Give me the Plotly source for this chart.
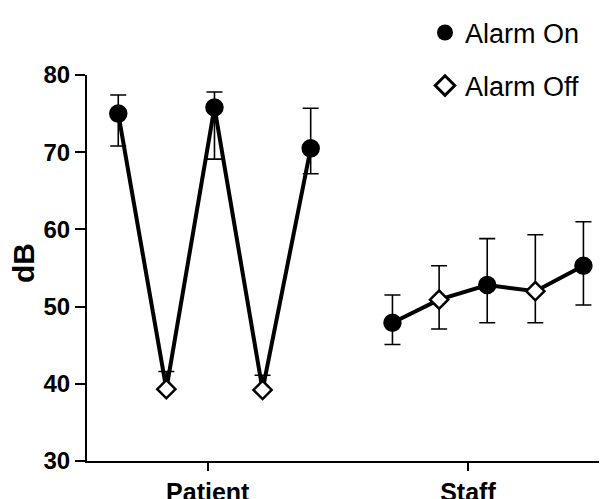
import plotly.graph_objects as go

# ---- data ----
patient_x = [0, 1, 2, 3, 4]
patient_y = [75.0, 39.3, 75.8, 39.2, 70.5]
patient_err_plus = [2.4, 2.3, 2.0, 1.9, 5.2]
patient_err_minus = [4.2, 0.0, 6.7, 0.0, 3.3]
patient_state = ["on", "off", "on", "off", "on"]

staff_x = [5.7, 6.67, 7.67, 8.67, 9.67]
staff_y = [47.9, 50.9, 52.8, 52.0, 55.3]
staff_err_plus = [3.6, 4.4, 6.0, 7.3, 5.7]
staff_err_minus = [2.8, 3.8, 4.9, 4.1, 5.1]
staff_state = ["on", "off", "on", "off", "on"]

category_ticks = [1.86, 7.27]
category_labels = ["Patient", "Staff"]
y_ticks = [30, 40, 50, 60, 70, 80]
y_title = "dB"

FONT = "Arial, Liberation Sans, Helvetica, sans-serif"


def group_trace(xs, ys, ep, em, states):
    symbols = ["circle" if s == "on" else "diamond" for s in states]
    fills = ["black" if s == "on" else "white" for s in states]
    sizes = [16 if s == "on" else 14 for s in states]
    return go.Scatter(
        x=xs, y=ys, mode="lines+markers", showlegend=False,
        line=dict(color="black", width=4),
        marker=dict(symbol=symbols, color=fills, size=sizes, opacity=1,
                    line=dict(color="black", width=2.5)),
        error_y=dict(type="data", symmetric=False, array=ep, arrayminus=em,
                     color="black", thickness=1.6, width=8),
    )


fig = go.Figure()
fig.add_trace(group_trace(patient_x, patient_y, patient_err_plus, patient_err_minus, patient_state))
fig.add_trace(group_trace(staff_x, staff_y, staff_err_plus, staff_err_minus, staff_state))

fig.add_trace(go.Scatter(x=[None], y=[None], mode="markers", name="Alarm On",
                         marker=dict(symbol="circle", color="black", size=16),
                         legend="legend"))
fig.add_trace(go.Scatter(x=[None], y=[None], mode="markers", name="Alarm Off",
                         marker=dict(symbol="diamond", color="white", size=15,
                                     line=dict(color="black", width=3)),
                         legend="legend2"))

fig.add_annotation(text=y_title, xref="paper", yref="paper", x=-0.121, y=0.513,
                   xanchor="center", yanchor="middle", textangle=-90, showarrow=False,
                   font=dict(size=30, family=FONT, weight="bold", color="black"))

# the page body adds an 8px offset; size the figure to fill the rest of the window
fig.update_layout(
    width=599, height=491,
    margin=dict(l=79, r=0, t=67, b=38, autoexpand=False),
    plot_bgcolor="white", paper_bgcolor="white",
    font=dict(family=FONT, color="black"),
    legend=dict(x=0.650, y=1.109, xanchor="left", yanchor="middle",
                font=dict(size=27, family=FONT), bgcolor="rgba(0,0,0,0)"),
    legend2=dict(x=0.650, y=0.9715, xanchor="left", yanchor="middle",
                 font=dict(size=27, family=FONT), bgcolor="rgba(0,0,0,0)"),
    xaxis=dict(range=[-0.65, 10.16], showgrid=False, zeroline=False,
               showline=True, linecolor="black", linewidth=2,
               ticks="outside", ticklen=8, tickwidth=2, tickcolor="black",
               tickvals=category_ticks, ticktext=category_labels,
               ticklabelstandoff=0, automargin=False,
               tickfont=dict(size=25, family=FONT, weight="bold")),
    yaxis=dict(range=[30, 80], showgrid=False, zeroline=False,
               showline=True, linecolor="black", linewidth=2,
               ticks="outside", ticklen=10, tickwidth=2, tickcolor="black",
               tickvals=y_ticks, automargin=False,
               tickfont=dict(size=24, family=FONT, weight="bold")),
)

fig.write_html("out.html")
